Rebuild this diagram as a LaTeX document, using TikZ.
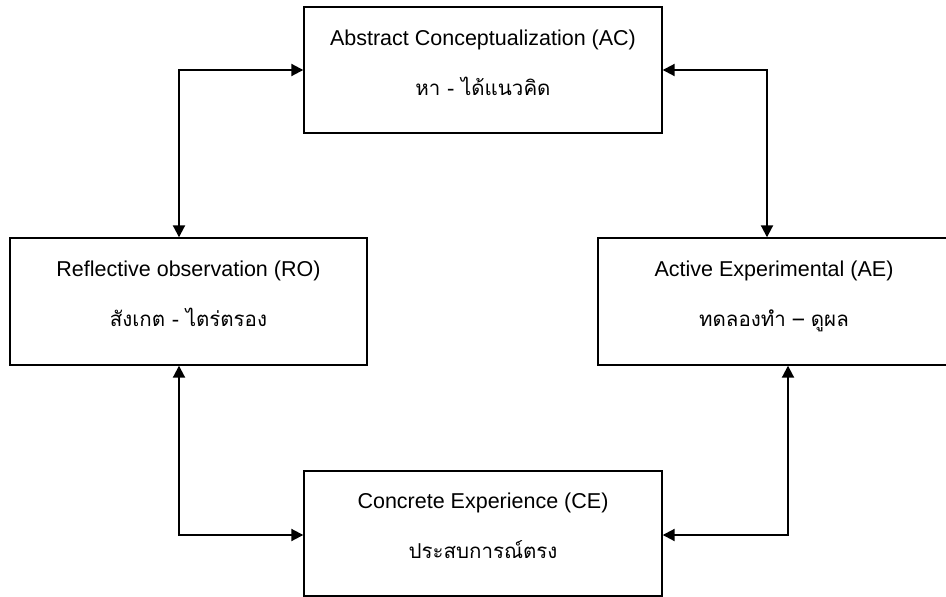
\documentclass[tikz,border=0pt]{standalone}
\usepackage{fontspec}
\setmainfont{Liberation Sans}
\newfontfamily\thaifont[Script=Thai]{Loma}
\newcommand{\thaitext}[1]{{\thaifont\fontsize{20.5}{50}\selectfont #1}}
\usetikzlibrary{arrows.meta, calc}

\begin{document}
\begin{tikzpicture}[x=1pt, y=-1pt, line join=miter,
    box/.style={draw, line width=1.4pt, inner sep=0pt, align=center,
      text depth=15pt, font=\fontsize{21.5}{50}\selectfont},
    link/.style={line width=2pt, {Triangle[length=12pt,width=12pt]}-{Triangle[length=12pt,width=12pt]}}]
  % Page frame, the right box runs past the edge
  \useasboundingbox (0,0) rectangle (946,597);
  \clip (0,0) rectangle (946,597);

  % The four stages
  \node[box, minimum width=358pt, minimum height=126pt] (ac) at (483,70)
    {Abstract Conceptualization (AC)\\ \thaitext{หา - ได้แนวคิด}};
  \node[box, minimum width=357pt, minimum height=127pt] (ro) at (188.5,301.5)
    {Reflective observation (RO)\\ \thaitext{สังเกต - ไตร่ตรอง}};
  \node[box, minimum width=352pt, minimum height=127pt] (ae) at (774,301.5)
    {Active Experimental (AE)\\ \thaitext{ทดลองทำ – ดูผล}};
  \node[box, minimum width=358pt, minimum height=125pt] (ce) at (483,533.5)
    {Concrete Experience (CE)\\ \thaitext{ประสบการณ์ตรง}};

  % Cycle links
  \draw[link] ([xshift=-9.5pt]ro.north) |- (ac.west);
  \draw[link] (ac.east) -| ([xshift=-7pt]ae.north);
  \draw[link] ([xshift=-9.5pt]ro.south) |- ([yshift=-1.5pt]ce.west);
  \draw[link] ([yshift=-1.5pt]ce.east) -| ([xshift=14pt]ae.south);
\end{tikzpicture}
\end{document}
